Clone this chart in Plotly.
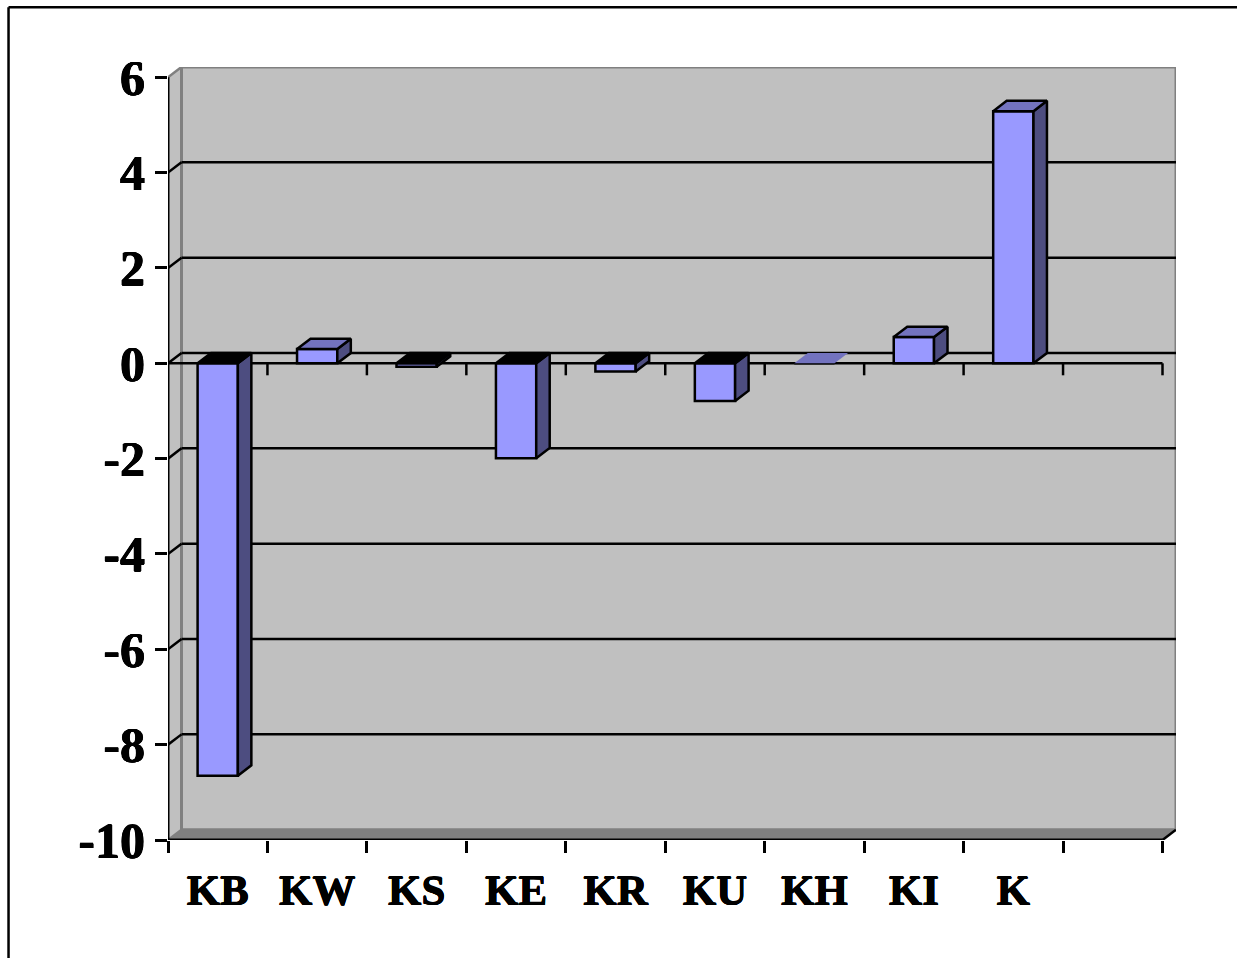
import plotly.graph_objects as go

categories = ["KB", "KW", "KS", "KE", "KR", "KU", "KH", "KI", "K"]
values = [-8.65, 0.3, -0.07, -1.99, -0.17, -0.79, 0.0, 0.55, 5.29]
y_ticks = [6, 4, 2, 0, -2, -4, -6, -8, -10]
y_tick_labels = ["6", "4", "2", "0", "-2", "-4", "-6", "-8", "-10"]

W, H = 1237, 958
PX0, PX1, PY0, PY1 = 167.5, 1175.7, 66.7, 840.0   # plot area in pixels
SLOTS = 10
DX = 13.5 / 99.48      # depth in x data units
DY = 10.3 / 47.69      # depth in y data units
BAR_W = 0.405
XMIN, XMAX = -0.5, SLOTS - 0.5
YMIN, YMAX = -10, 6
FRONT, SIDE, TOP = "#9999FF", "#4D4D80", "#7373BF"
WALL, EDGE = "#C0C0C0", "#808080"
FONT = "Liberation Serif"
LW = 2.5
HEAVY = "0.4px 0 0 black,-0.4px 0 0 black,0 0.3px 0 black,0 -0.3px 0 black"


def seg(x0, y0, x1, y1, color="black", width=LW, layer="below"):
    return dict(type="line", xref="x", yref="y", x0=x0, y0=y0, x1=x1, y1=y1,
                line=dict(color=color, width=width), layer=layer)


def poly(pts, fill, color=None, width=0):
    path = "M " + " L ".join(f"{x},{y}" for x, y in pts) + " Z"
    return dict(type="path", xref="x", yref="y", path=path, fillcolor=fill,
                line=dict(color=color or fill, width=width), layer="below")


shapes = []
# side wall, floor, back wall
shapes.append(poly([(XMIN, YMIN), (XMIN + DX, YMIN + DY), (XMIN + DX, YMAX + DY), (XMIN, YMAX)], WALL))
shapes.append(poly([(XMIN, YMIN), (XMIN + DX, YMIN + DY), (XMAX + DX, YMIN + DY), (XMAX, YMIN)], EDGE))
shapes.append(poly([(XMIN + DX, YMIN + DY), (XMAX + DX, YMIN + DY), (XMAX + DX, YMAX + DY), (XMIN + DX, YMAX + DY)],
                   WALL, EDGE, 3))
shapes.append(seg(XMIN, YMAX, XMIN + DX, YMAX + DY, EDGE, 2.5))
shapes.append(seg(XMIN, YMIN, XMIN + DX, YMIN + DY, EDGE, 2.5))
# gridlines on the wall and their slants
for t in y_ticks[1:-1]:
    shapes.append(seg(XMIN + DX, t + DY, XMAX + DX, t + DY))
    shapes.append(seg(XMIN, t, XMIN + DX, t + DY))
# front axes
shapes.append(seg(XMIN, 0, XMAX, 0))
for i in range(1, SLOTS + 1):
    shapes.append(seg(XMIN + i, 0, XMIN + i, -12 / 47.69))
shapes.append(seg(XMIN, YMIN, XMIN, YMAX, width=3, layer="above"))
shapes.append(seg(XMIN, YMIN, XMAX, YMIN, width=3, layer="above"))
shapes.append(seg(XMAX, YMIN, XMAX + DX, YMIN + DY, layer="above"))
# page frame
px = lambda v: (v - PX0) / (PX1 - PX0)
py = lambda v: 1 - (v - PY0) / (PY1 - PY0)
for a, b, c, d in [(8, 7, 8, 958), (8, 7, 1237, 7)]:
    shapes.append(dict(type="line", xref="paper", yref="paper", x0=px(a), y0=py(b), x1=px(c), y1=py(d),
                       line=dict(color="black", width=2.5), layer="above"))

fig = go.Figure()
xs = list(range(len(categories)))
fig.add_trace(go.Bar(x=xs, y=values, width=BAR_W, marker=dict(color=FRONT, line=dict(color="black", width=LW)),
                     hoverinfo="skip", showlegend=False))
for x, v in zip(xs, values):
    l, r = x - BAR_W / 2, x + BAR_W / 2
    top = max(v, 0)
    low = min(v, 0)
    outlined = v != 0
    line = dict(color="black", width=LW) if outlined else dict(width=0)
    if outlined:
        fig.add_trace(go.Scatter(x=[r, r + DX, r + DX, r, r], y=[top, top + DY, low + DY, low, top],
                                 mode="lines", fill="toself", fillcolor=SIDE, line=line,
                                 hoverinfo="skip", showlegend=False))
    fig.add_trace(go.Scatter(x=[l, l + DX, r + DX, r, l], y=[top, top + DY, top + DY, top, top],
                             mode="lines", fill="toself", fillcolor="black" if v < 0 else TOP, line=line,
                             hoverinfo="skip", showlegend=False))

fig.update_layout(
    width=W, height=H, autosize=False,
    margin=dict(l=PX0, r=W - PX1, t=PY0, b=H - PY1, pad=0),
    paper_bgcolor="white", plot_bgcolor="white", shapes=shapes, showlegend=False,
    font=dict(family=FONT, color="black"),
    xaxis=dict(range=[XMIN, XMAX + DX], tickmode="array", tickvals=xs, ticktext=categories,
               ticks="outside", ticklen=12, tickcolor="rgba(0,0,0,0)", showgrid=False, zeroline=False,
               showline=False, tickfont=dict(family=FONT, size=43, weight="bold", shadow=HEAVY),
               minor=dict(tickmode="array", tickvals=[XMIN + i for i in range(SLOTS + 1)], ticks="outside",
                          ticklen=12, tickwidth=LW, tickcolor="black", showgrid=False)),
    yaxis=dict(range=[YMIN, YMAX + DY], tickmode="array", tickvals=y_ticks, ticktext=y_tick_labels,
               ticks="outside", ticklen=12, tickwidth=LW, tickcolor="black", showgrid=False, zeroline=False,
               showline=False, ticklabelstandoff=0, tickfont=dict(family=FONT, size=50, weight="bold", shadow=HEAVY)),
)
fig.write_html("out.html", config={"displayModeBar": False},
               post_script="document.body.style.margin='0';document.body.style.overflow='hidden';")
